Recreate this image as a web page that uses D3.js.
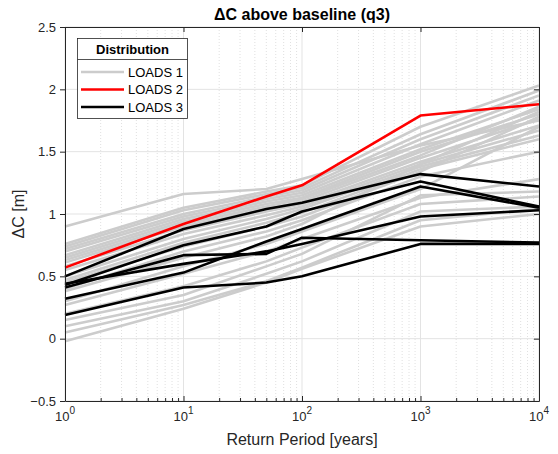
<!DOCTYPE html>
<html>
<head>
<meta charset="utf-8">
<script src="https://cdn.jsdelivr.net/npm/d3@7"></script>
<style>
  body { margin: 0; background: #fff; }
  text { font-family: "Liberation Sans", Arial, sans-serif; }
</style>
</head>
<body>
<svg id="chart" width="558" height="454"></svg>
<script>
// ---- data ----
const returnPeriods = [1, 10, 50, 100, 1000, 10000];
const yTicks = [-0.5, 0, 0.5, 1, 1.5, 2, 2.5];
const xTicks = [1, 10, 100, 1000, 10000];
const legendLabels = ["LOADS 1", "LOADS 2", "LOADS 3"];

const loads1 = [
  [0.90, 1.16, 1.20, 1.28, 1.55, 1.75],
  [0.76, 1.05, 1.18, 1.23, 1.70, 2.03],
  [0.74, 1.03, 1.16, 1.21, 1.64, 1.99],
  [0.72, 1.00, 1.14, 1.19, 1.60, 1.95],
  [0.70, 0.98, 1.12, 1.17, 1.56, 1.91],
  [0.67, 0.96, 1.10, 1.15, 1.52, 1.84],
  [0.65, 0.94, 1.08, 1.13, 1.50, 1.80],
  [0.63, 0.92, 1.06, 1.12, 1.47, 1.86],
  [0.61, 0.90, 1.04, 1.10, 1.45, 1.76],
  [0.58, 0.87, 1.02, 1.08, 1.42, 1.71],
  [0.55, 0.84, 0.99, 1.06, 1.40, 1.67],
  [0.50, 0.80, 0.96, 1.04, 1.38, 1.63],
  [0.47, 0.77, 0.93, 1.01, 1.36, 1.60],
  [0.45, 0.74, 0.90, 0.98, 1.34, 1.78],
  [0.40, 0.70, 0.86, 0.95, 1.30, 1.50],
  [0.38, 0.65, 0.82, 0.92, 1.40, 1.82],
  [0.30, 0.58, 0.76, 0.86, 1.20, 1.70],
  [0.27, 0.52, 0.70, 0.80, 1.13, 1.28],
  [0.20, 0.42, 0.62, 0.73, 1.08, 1.14],
  [0.15, 0.35, 0.58, 0.68, 1.15, 1.18],
  [0.10, 0.30, 0.52, 0.62, 1.02, 1.06],
  [0.05, 0.27, 0.46, 0.57, 0.95, 1.04],
  [-0.02, 0.24, 0.45, 0.56, 0.90, 1.00]
];
const loads2 = [
  [0.57, 0.92, 1.14, 1.23, 1.79, 1.88]
];
const loads3 = [
  [0.50, 0.88, 1.04, 1.09, 1.32, 1.22],
  [0.43, 0.75, 0.90, 1.02, 1.26, 1.06],
  [0.41, 0.67, 0.68, 0.81, 0.79, 0.77],
  [0.32, 0.53, 0.78, 0.88, 1.22, 1.05],
  [0.19, 0.41, 0.45, 0.50, 0.76, 0.76],
  [0.44, 0.60, 0.70, 0.76, 0.98, 1.03]
];

// ---- layout ----
const svg = d3.select("#chart");
const L = 65, R = 539, T = 27, B = 401;
const x = d3.scaleLog().domain([1, 10000]).range([L, R]);
const y = d3.scaleLinear().domain([-0.5, 2.5]).range([B, T]);

// grid: minor dotted x
const minor = [];
for (let d = 1; d < 10000; d *= 10) for (let k = 2; k <= 9; k++) minor.push(d * k);
svg.append("g").selectAll("line").data(minor).join("line")
  .attr("x1", d => x(d)).attr("x2", d => x(d)).attr("y1", T).attr("y2", B)
  .attr("stroke", "#d8d8d8").attr("stroke-width", 0.8).attr("stroke-dasharray", "1,2");
// major grid
svg.append("g").selectAll("line").data(xTicks).join("line")
  .attr("x1", d => x(d)).attr("x2", d => x(d)).attr("y1", T).attr("y2", B)
  .attr("stroke", "#e3e3e3").attr("stroke-width", 1);
svg.append("g").selectAll("line").data(yTicks).join("line")
  .attr("x1", L).attr("x2", R).attr("y1", d => y(d)).attr("y2", d => y(d))
  .attr("stroke", "#e3e3e3").attr("stroke-width", 1);

// lines
const line = d3.line().x((d, i) => x(returnPeriods[i])).y(d => y(d));
svg.append("g").selectAll("path").data(loads1).join("path")
  .attr("d", line).attr("fill", "none").attr("stroke", "#cccccc").attr("stroke-width", 2.6)
  .attr("stroke-linejoin", "round");
svg.append("g").selectAll("path").data(loads3).join("path")
  .attr("d", line).attr("fill", "none").attr("stroke", "#000").attr("stroke-width", 2.6)
  .attr("stroke-linejoin", "round");
svg.append("g").selectAll("path").data(loads2).join("path")
  .attr("d", line).attr("fill", "none").attr("stroke", "#ff0000").attr("stroke-width", 2.6)
  .attr("stroke-linejoin", "round");

// axes
const fmtY = d => d3.format("")(d);
const yAxis = d3.axisLeft(y).tickValues(yTicks).tickSize(5).tickSizeOuter(0).tickFormat(fmtY).tickPadding(4);
const gy = svg.append("g").attr("transform", `translate(${L},0)`).call(yAxis);
gy.selectAll("text").attr("font-size", 13).attr("fill", "#262626");
gy.selectAll("line,path").attr("stroke", "#262626");
const gyr = svg.append("g").attr("transform", `translate(${R},0)`)
  .call(d3.axisLeft(y).tickValues(yTicks).tickSize(5).tickSizeOuter(0).tickFormat(""));
gyr.selectAll("line,path").attr("stroke", "#262626");
gyr.selectAll("line").attr("x2", -5);

const xAxis = d3.axisBottom(x).tickValues(xTicks).tickSize(5).tickSizeOuter(0).tickFormat("");
const gx = svg.append("g").attr("transform", `translate(0,${B})`).call(xAxis);
gx.selectAll("line").attr("y2", -5);
gx.selectAll("line,path").attr("stroke", "#262626");
const gxm = svg.append("g").attr("transform", `translate(0,${B})`)
  .call(d3.axisBottom(x).tickValues(minor).tickSize(3).tickSizeOuter(0).tickFormat(""));
gxm.selectAll("line").attr("y2", -3).attr("stroke", "#262626");
gxm.select("path").remove();
const gxt = svg.append("g").attr("transform", `translate(0,${T})`)
  .call(d3.axisTop(x).tickValues(xTicks).tickSize(5).tickSizeOuter(0).tickFormat(""));
gxt.selectAll("line").attr("y2", 5);
gxt.selectAll("line,path").attr("stroke", "#262626");

// x tick labels with superscripts
const xl = svg.append("g").selectAll("text").data(xTicks).join("text")
  .attr("x", d => x(d)).attr("y", B + 20).attr("text-anchor", "middle")
  .attr("font-size", 13).attr("fill", "#262626");
xl.append("tspan").text("10");
xl.append("tspan").attr("dy", -7).attr("font-size", 10).text(d => Math.round(Math.log10(d)));

// labels
svg.append("text").attr("x", (L + R) / 2).attr("y", B + 44).attr("text-anchor", "middle")
  .attr("font-size", 16).attr("fill", "#262626").text("Return Period [years]");
svg.append("text").attr("transform", `translate(24,${(T + B) / 2}) rotate(-90)`)
  .attr("text-anchor", "middle").attr("font-size", 16).attr("fill", "#262626").text("ΔC [m]");
svg.append("text").attr("x", (L + R) / 2).attr("y", 20).attr("text-anchor", "middle")
  .attr("font-size", 16).attr("font-weight", "bold").attr("fill", "#000").text("ΔC above baseline (q3)");

// legend
const lg = svg.append("g");
lg.append("rect").attr("x", 77.5).attr("y", 38.5).attr("width", 110).attr("height", 80)
  .attr("fill", "#fff").attr("stroke", "#262626").attr("stroke-width", 0.8);
lg.append("line").attr("x1", 77.5).attr("x2", 187.5).attr("y1", 59.5).attr("y2", 59.5)
  .attr("stroke", "#262626").attr("stroke-width", 0.8);
lg.append("text").attr("x", 132.5).attr("y", 54).attr("text-anchor", "middle")
  .attr("font-size", 13).attr("font-weight", "bold").text("Distribution");
const legColors = ["#cccccc", "#ff0000", "#000000"];
legendLabels.forEach((lab, i) => {
  const yy = 72 + i * 17.5;
  lg.append("line").attr("x1", 81).attr("x2", 124).attr("y1", yy).attr("y2", yy)
    .attr("stroke", legColors[i]).attr("stroke-width", 2.6);
  lg.append("text").attr("x", 128).attr("y", yy + 4.5).attr("font-size", 13)
    .attr("fill", "#000").text(lab);
});
</script>
</body>
</html>
